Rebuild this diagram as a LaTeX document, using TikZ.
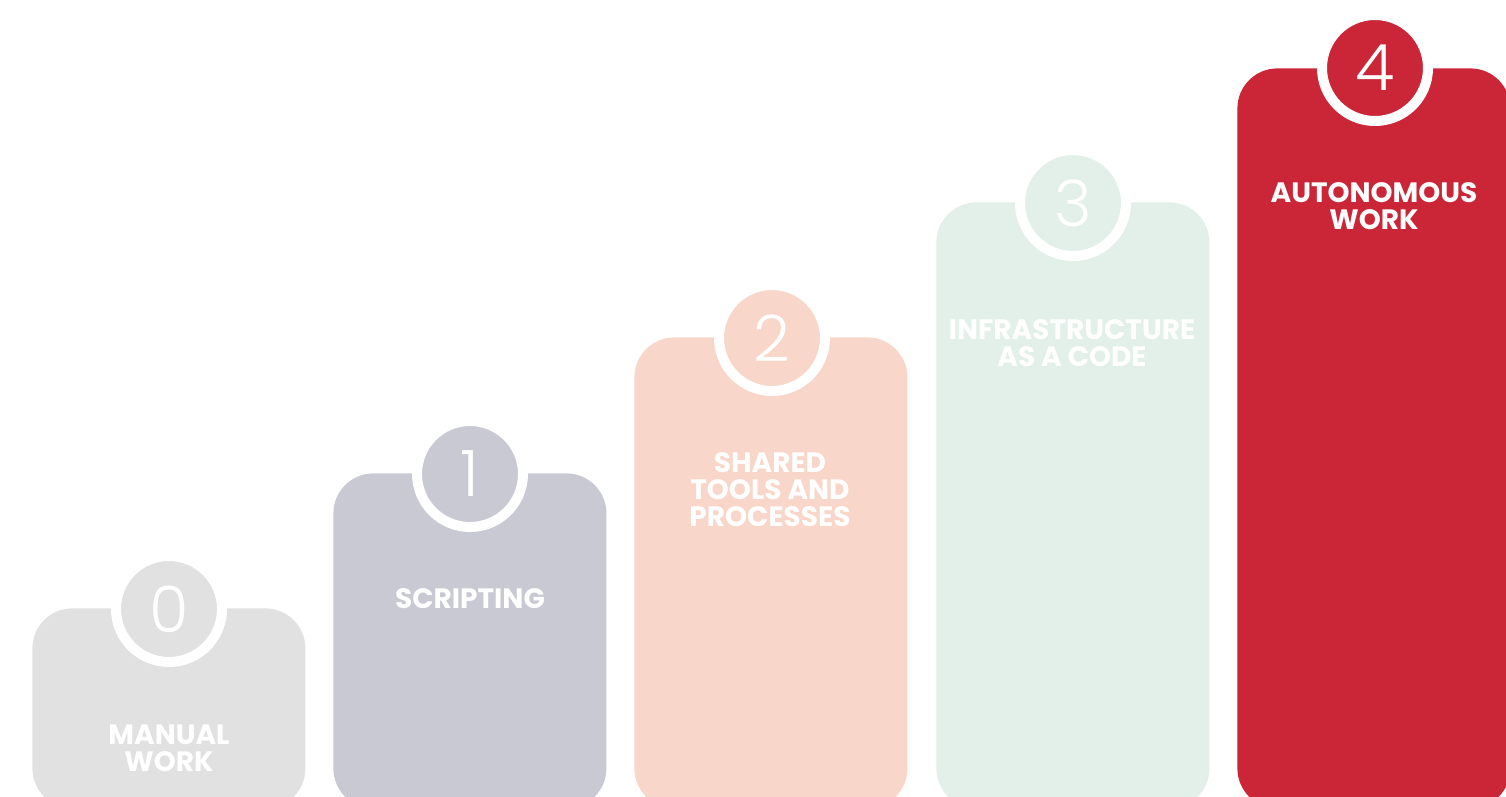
\documentclass[tikz,border=0pt]{standalone}
\usepackage{fontspec}
\setmainfont{Poppins}
\newfontfamily\numfont{Poppins Light}
\usepackage{tikz}

\definecolor{manualgray}{HTML}{E1E1E1}
\definecolor{scriptgray}{HTML}{C9C9D4}
\definecolor{sharedpeach}{HTML}{F8D6C9}
\definecolor{infragreen}{HTML}{E2F0E9}
\definecolor{autored}{HTML}{CB2638}

\begin{document}
\begin{tikzpicture}[x=0.5pt, y=-0.5pt,
    bar/.style={rectangle, rounded corners=20pt, minimum width=136.5pt, anchor=north west, inner sep=0pt},
    ring/.style={circle, draw=white, line width=5pt, minimum size=53pt, inner sep=0pt, text=white, font=\numfont\fontsize{32}{32}\selectfont},
    steptext/.style={anchor=north, align=center, inner sep=0pt, text=white, font=\bfseries\fontsize{14}{13.5}\selectfont}]
            \useasboundingbox[fill=white] (0,0) rectangle (1506,797);

            % the five steps
            \node[bar, fill=manualgray, minimum height=100pt] (bar0) at (32,608) {};
            \node[bar, fill=scriptgray, minimum height=167.5pt] (bar1) at (333,473) {};
            \node[bar, fill=sharedpeach, minimum height=235.5pt] (bar2) at (634,337) {};
            \node[bar, fill=infragreen, minimum height=303pt] (bar3) at (936,202) {};
            \node[bar, fill=autored, minimum height=370pt] (bar4) at (1237,68) {};

            % numbers
            \node[ring, fill=manualgray] (num0) at (169,609) {0};
            \node[ring, fill=scriptgray] (num1) at (470,474) {1};
            \node[ring, fill=sharedpeach] (num2) at (772,338) {2};
            \node[ring, fill=infragreen] (num3) at (1073,203) {3};
            \node[ring, fill=autored] (num4) at (1375,68) {4};

            % titles
            \node[steptext] (txt0) at (169,724) {MANUAL\\WORK};
            \node[steptext] (txt1) at (470,588) {SCRIPTING};
            \node[steptext] (txt2) at (770,452) {SHARED\\TOOLS AND\\PROCESSES};
            \node[steptext] (txt3) at (1072,319) {INFRASTRUCTURE\\AS A CODE};
            \node[steptext] (txt4) at (1374,182) {AUTONOMOUS\\WORK};
        \end{tikzpicture}
\end{document}
